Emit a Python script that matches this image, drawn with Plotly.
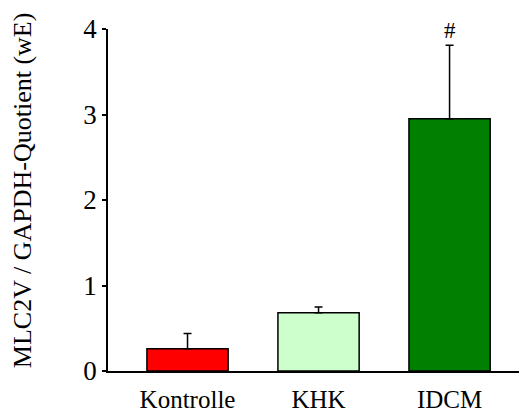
import plotly.graph_objects as go

categories = ["Kontrolle", "KHK", "IDCM"]
values = [0.26, 0.68, 2.95]
errors_up = [0.18, 0.07, 0.86]
colors = ["#ff0000", "#ccffcc", "#007f00"]
y_ticks = [0, 1, 2, 3, 4]
markers = ["", "", "#"]

FONT = "Liberation Serif, Times New Roman, serif"
xpos = list(range(len(categories)))

fig = go.Figure()
fig.add_trace(go.Bar(
    x=xpos, y=values, width=0.62,
    marker=dict(color=colors, line=dict(color="black", width=1.5)),
    error_y=dict(type="data", symmetric=False, array=errors_up,
                 arrayminus=[0] * len(values), color="black",
                 thickness=1.5, width=4),
    showlegend=False, hoverinfo="skip",
))

for i, m in enumerate(markers):
    if m:
        fig.add_annotation(x=xpos[i], y=values[i] + errors_up[i], text=m,
                           showarrow=False, yanchor="bottom", yshift=0,
                           font=dict(family=FONT, size=23, color="black"))

fig.add_annotation(xref="paper", yref="paper", x=-0.209, y=0.529,
                   text="MLC2V / GAPDH-Quotient (wE)", textangle=-90,
                   showarrow=False, xanchor="center", yanchor="middle",
                   font=dict(family=FONT, size=26, color="black"))

fig.update_xaxes(range=[-0.607, 2.53], tickvals=xpos, ticktext=categories,
                 showline=True, linecolor="black", linewidth=1.5,
                 ticks="", showgrid=False, zeroline=False,
                 ticklabelstandoff=5, automargin=False,
                 tickfont=dict(family=FONT, size=25, color="black"))
fig.update_yaxes(range=[0, 4], tickvals=y_ticks, showline=True,
                 linecolor="black", linewidth=1.5, ticks="outside",
                 ticklen=4, tickwidth=1.5, tickcolor="black",
                 showgrid=False, zeroline=False, automargin=False,
                 tickfont=dict(family=FONT, size=27, color="black"))

fig.update_layout(width=519, height=414,
                  margin=dict(l=108, r=0, t=29, b=43),
                  plot_bgcolor="white", paper_bgcolor="white",
                  font=dict(family=FONT, color="black"))

fig.write_html("out.html")
